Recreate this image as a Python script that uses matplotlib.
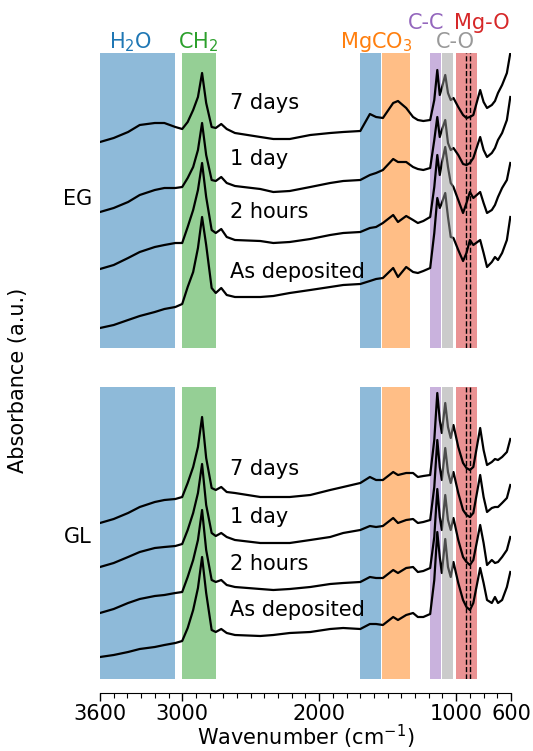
import matplotlib
matplotlib.use("Agg")
import matplotlib.pyplot as plt
import matplotlib.transforms as mtransforms
from matplotlib.ticker import FixedLocator, MultipleLocator

# ---------------- data ----------------
wavenumber = [3600, 3500, 3395, 3310, 3200, 3130, 3050, 3000, 2960, 2920, 2885, 2855,
              2825, 2785, 2755, 2715, 2675, 2615, 2430, 2335, 2215, 2065, 1920, 1825,
              1700, 1630, 1585, 1535, 1460, 1425, 1365, 1315, 1280, 1240, 1190, 1160,
              1138, 1120, 1105, 1080, 1060, 1040, 1020, 985, 950, 925, 900, 875, 825,
              800, 775, 740, 717, 695, 665, 630, 605]

eg_7days = [2.06, 2.10, 2.16, 2.23, 2.25, 2.25, 2.21, 2.19, 2.26, 2.38, 2.51, 2.75,
            2.45, 2.21, 2.20, 2.24, 2.19, 2.15, 2.11, 2.09, 2.09, 2.13, 2.15, 2.16,
            2.17, 2.34, 2.31, 2.30, 2.45, 2.47, 2.40, 2.31, 2.28, 2.27, 2.28, 2.48,
            2.78, 2.53, 2.60, 2.73, 2.55, 2.48, 2.50, 2.41, 2.33, 2.30, 2.31, 2.33,
            2.58, 2.46, 2.40, 2.43, 2.47, 2.55, 2.63, 2.75, 2.95]
eg_1day = [1.36, 1.40, 1.46, 1.53, 1.58, 1.60, 1.60, 1.61, 1.70, 1.81, 1.98, 2.25,
           1.93, 1.68, 1.67, 1.71, 1.65, 1.62, 1.59, 1.56, 1.57, 1.61, 1.65, 1.67,
           1.68, 1.73, 1.75, 1.78, 1.89, 1.86, 1.86, 1.81, 1.79, 1.78, 1.80, 2.08,
           2.31, 2.11, 2.18, 2.28, 2.05, 1.98, 2.00, 1.93, 1.84, 1.83, 1.85, 1.90,
           2.11, 1.98, 1.91, 1.95, 2.00, 2.08, 2.15, 2.28, 2.51]
eg_2hours = [0.79, 0.83, 0.90, 0.96, 1.01, 1.03, 1.05, 1.05, 1.21, 1.38, 1.58, 1.85,
             1.51, 1.18, 1.15, 1.19, 1.11, 1.08, 1.07, 1.05, 1.06, 1.09, 1.13, 1.15,
             1.16, 1.20, 1.21, 1.25, 1.33, 1.26, 1.32, 1.28, 1.25, 1.27, 1.31, 1.61,
             1.93, 1.73, 1.85, 2.01, 1.81, 1.65, 1.61, 1.48, 1.35, 1.45, 1.56, 1.50,
             1.56, 1.45, 1.35, 1.38, 1.43, 1.51, 1.60, 1.68, 1.85]
eg_deposited = [0.20, 0.23, 0.28, 0.32, 0.36, 0.39, 0.41, 0.44, 0.61, 0.76, 1.00, 1.31,
                1.03, 0.60, 0.55, 0.60, 0.53, 0.51, 0.51, 0.52, 0.55, 0.58, 0.61, 0.63,
                0.64, 0.67, 0.69, 0.70, 0.80, 0.71, 0.81, 0.76, 0.75, 0.77, 0.80, 1.15,
                1.50, 1.40, 1.45, 1.55, 1.31, 1.11, 1.10, 0.98, 0.87, 0.95, 1.08, 1.03,
                1.08, 0.95, 0.81, 0.86, 0.91, 0.88, 0.95, 1.08, 1.31]

gl_7days = [1.56, 1.60, 1.66, 1.72, 1.77, 1.79, 1.80, 1.82, 1.96, 2.12, 2.32, 2.62,
            2.21, 1.91, 1.89, 1.92, 1.87, 1.86, 1.82, 1.82, 1.82, 1.84, 1.89, 1.92,
            1.96, 2.02, 1.99, 1.99, 2.07, 2.04, 2.06, 2.06, 2.02, 2.03, 2.04, 2.39,
            2.86, 2.59, 2.46, 2.76, 2.52, 2.41, 2.54, 2.32, 2.16, 2.11, 2.09, 2.12,
            2.51, 2.29, 2.14, 2.17, 2.20, 2.19, 2.22, 2.27, 2.40]
gl_1day = [1.12, 1.16, 1.22, 1.27, 1.31, 1.32, 1.33, 1.35, 1.49, 1.66, 1.86, 2.15,
           1.74, 1.46, 1.43, 1.46, 1.42, 1.39, 1.36, 1.36, 1.36, 1.39, 1.42, 1.46,
           1.49, 1.53, 1.52, 1.53, 1.61, 1.56, 1.59, 1.60, 1.56, 1.57, 1.59, 1.92,
           2.39, 2.12, 1.99, 2.31, 2.07, 1.96, 2.07, 1.86, 1.69, 1.64, 1.62, 1.66,
           2.04, 1.82, 1.67, 1.71, 1.72, 1.72, 1.76, 1.81, 1.94]
gl_2hours = [0.66, 0.70, 0.76, 0.80, 0.83, 0.84, 0.86, 0.87, 1.02, 1.19, 1.39, 1.69,
             1.29, 0.99, 0.97, 0.99, 0.94, 0.92, 0.90, 0.89, 0.90, 0.92, 0.95, 0.96,
             0.97, 1.02, 1.01, 1.01, 1.09, 1.06, 1.11, 1.12, 1.07, 1.08, 1.11, 1.42,
             1.90, 1.62, 1.49, 1.84, 1.59, 1.49, 1.61, 1.39, 1.22, 1.17, 1.14, 1.19,
             1.54, 1.36, 1.14, 1.19, 1.16, 1.17, 1.22, 1.29, 1.42]
gl_deposited = [0.22, 0.24, 0.27, 0.30, 0.32, 0.34, 0.36, 0.38, 0.51, 0.69, 0.91, 1.22,
                0.86, 0.49, 0.47, 0.50, 0.46, 0.44, 0.43, 0.44, 0.46, 0.47, 0.50, 0.51,
                0.50, 0.55, 0.55, 0.54, 0.62, 0.59, 0.64, 0.66, 0.62, 0.62, 0.65, 0.99,
                1.47, 1.22, 1.06, 1.40, 1.12, 1.02, 1.17, 0.96, 0.79, 0.72, 0.69, 0.76,
                1.11, 0.96, 0.79, 0.76, 0.82, 0.76, 0.79, 0.92, 1.07]

sample_labels = ["7 days", "1 day", "2 hours", "As deposited"]
panel_names = ["EG", "GL"]
eg_label_y = [2.45, 1.89, 1.36, 0.76]
gl_label_y = [2.10, 1.62, 1.15, 0.69]

# bands: (low, high, colour)
bands = [(3050, 3600, "#1f77b4"), (2750, 3000, "#2ca02c"), (1550, 1700, "#1f77b4"),
         (1340, 1540, "#ff7f0e"), (1110, 1190, "#9467bd"), (1025, 1105, "#999999"),
         (845, 1000, "#d62728")]
dashed_lines = [930, 900]

band_labels = [(r"H$_2$O", 3377, 1.037, "#1f77b4"), (r"CH$_2$", 2881, 1.037, "#2ca02c"),
               (r"MgCO$_3$", 1585, 1.037, "#ff7f0e"), ("C-C", 1220, 1.102, "#9467bd"),
               ("C-O", 1009, 1.037, "#999999"), ("Mg-O", 811, 1.102, "#d62728")]

major_ticks = [3600, 3000, 2000, 1000, 600]

# ---------------- figure ----------------
plt.rcParams["font.family"] = ["DejaVu Sans"]
FS = 15
fig = plt.figure(figsize=(5.33, 7.51), dpi=100)
ax_top = fig.add_axes([100 / 533, 1 - 348 / 751, 411 / 533, 295 / 751])
ax_bot = fig.add_axes([100 / 533, 1 - 679 / 751, 411 / 533, 292 / 751])

panels = [(ax_top, [eg_7days, eg_1day, eg_2hours, eg_deposited], eg_label_y, (0, 2.95)),
          (ax_bot, [gl_7days, gl_1day, gl_2hours, gl_deposited], gl_label_y, (0, 2.92))]

for ax, curves, label_y, ylim in panels:
    for lo, hi, col in bands:
        z = 3 if col == "#999999" else 0
        ax.axvspan(lo, hi, color=col, alpha=0.5, lw=0, zorder=z)
    for xv in dashed_lines:
        ax.axvline(xv, color="black", ls="--", lw=1.0, zorder=4)
    for c in curves:
        ax.plot(wavenumber, c, color="black", lw=1.6, zorder=2)
    for lab, yv in zip(sample_labels, label_y):
        ax.text(2650, yv, lab, fontsize=FS, va="center", ha="left", zorder=5)
    ax.set_xlim(3600, 600)
    ax.set_ylim(*ylim)
    for s in ["left", "right", "top"]:
        ax.spines[s].set_visible(False)
    ax.set_yticks([])

ax_top.spines["bottom"].set_visible(False)
ax_top.set_xticks([])
ax_top.tick_params(axis="x", which="both", bottom=False, labelbottom=False)

ax_bot.spines["bottom"].set_position(("outward", 10))
ax_bot.xaxis.set_major_locator(FixedLocator(major_ticks))
ax_bot.xaxis.set_minor_locator(MultipleLocator(100))
ax_bot.tick_params(axis="x", which="major", length=6, width=1, labelsize=FS, pad=2)
ax_bot.tick_params(axis="x", which="minor", length=3.5, width=0.8)
ax_bot.set_xlabel("Wavenumber (cm$^{-1}$)", fontsize=FS, labelpad=-1)

trans = mtransforms.blended_transform_factory(ax_top.transData, ax_top.transAxes)
for txt, xv, yv, col in band_labels:
    ax_top.text(xv, yv, txt, color=col, fontsize=FS, ha="center", va="center",
                transform=trans, clip_on=False)

fig.text(78 / 533, 1 - 199 / 751, panel_names[0], fontsize=FS, ha="center", va="center")
fig.text(78 / 533, 1 - 537 / 751, panel_names[1], fontsize=FS, ha="center", va="center")
fig.text(18 / 533, 1 - 380 / 751, "Absorbance (a.u.)", fontsize=FS, rotation=90,
         ha="center", va="center")

fig.savefig("out.png", dpi=100)
